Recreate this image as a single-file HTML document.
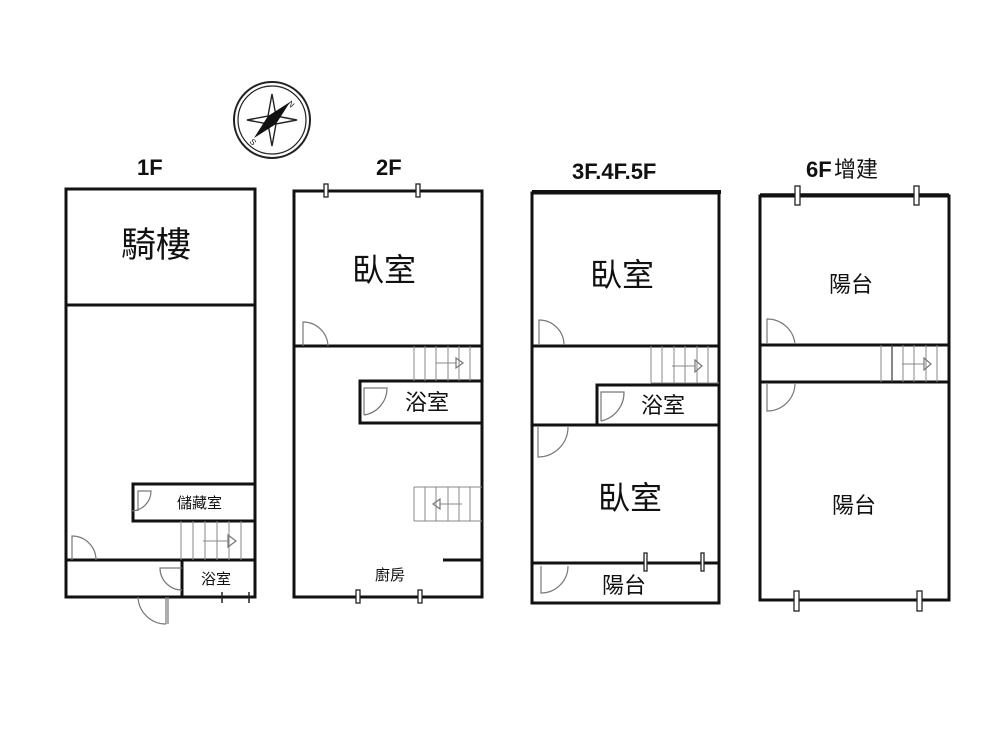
<!DOCTYPE html>
<html><head><meta charset="utf-8">
<style>
html,body{margin:0;padding:0;background:#fff;}
svg{display:block;}
.w{stroke:#111;stroke-width:3;fill:none;}
.t{stroke:#111;stroke-width:1.6;fill:none;}
.g{stroke:#888;stroke-width:1;fill:none;}
.d{stroke:#777;stroke-width:1.2;fill:none;}
text{font-family:"Liberation Sans","Noto Sans CJK TC",sans-serif;fill:#111;}
.h{font-weight:bold;font-size:22px;}
.b{font-size:32px;}
.m{font-size:22px;}
.s{font-size:15px;}
</style></head><body>
<svg width="1000" height="750" viewBox="0 0 1000 750" xmlns="http://www.w3.org/2000/svg">
<!-- compass -->
<g transform="translate(272,120)">
<circle r="38" fill="none" stroke="#222" stroke-width="2"/>
<circle r="34" fill="none" stroke="#222" stroke-width="1.2"/>
<path d="M0,-26 L4,-4 L0,0 L-4,-4Z M0,26 L4,4 L0,0 L-4,4Z M-25,0 L-4,-4 L0,0 L-4,4Z M25,0 L4,-4 L0,0 L4,4Z" fill="#fff" stroke="#222" stroke-width="1.4"/>
<path d="M18,-18 L4,4 L-18,18 L-4,-4Z" fill="#111"/>
<text x="16" y="-14" font-size="8" transform="rotate(45 18 -16)">N</text>
<text x="-22" y="24" font-size="8" transform="rotate(45 -20 22)">S</text>
</g>

<!-- titles -->
<text class="h" x="137" y="175">1F</text>
<text class="h" x="376" y="175">2F</text>
<text class="h" x="572" y="179">3F.4F.5F</text>
<text class="h" x="806" y="177">6F</text><text x="834" y="177" font-size="22">增建</text>

<!-- 1F -->
<rect class="w" x="66" y="189" width="189" height="408"/>
<line class="w" x1="66" y1="305" x2="255" y2="305"/>
<rect class="w" x="133" y="484" width="122" height="37"/>
<line class="w" x1="66" y1="560" x2="255" y2="560"/>
<line class="w" x1="182" y1="560" x2="182" y2="597"/>
<g class="g"><line x1="181" y1="521" x2="181" y2="560"/><line x1="193" y1="521" x2="193" y2="560"/><line x1="205" y1="521" x2="205" y2="560"/><line x1="217" y1="521" x2="217" y2="560"/><line x1="229" y1="521" x2="229" y2="560"/><line x1="241" y1="521" x2="241" y2="560"/><line x1="203" y1="541" x2="228" y2="541"/></g>
<path class="d" d="M228,535 L236,541 L228,547Z"/>
<path class="d" d="M138,511 V491 H151 A20,20 0 0 1 131,511"/>
<path class="d" d="M72,560 V536 A24,24 0 0 1 96,560"/>
<path class="d" d="M182,590 A22,22 0 0 1 160,568 H182"/>
<path class="d" d="M166,624 V597 M166,624 A28,28 0 0 1 138,597 M168,624 V597"/>
<g stroke="#222" stroke-width="1.5"><line x1="222" y1="592" x2="222" y2="603"/><line x1="249" y1="592" x2="249" y2="603"/></g>
<text x="121" y="257" font-size="35">騎樓</text>
<text class="s" x="177" y="508">儲藏室</text>
<text class="s" x="201" y="584">浴室</text>

<!-- 2F -->
<rect class="w" x="294" y="191" width="188" height="406"/>
<line class="w" x1="294" y1="346" x2="482" y2="346"/>
<rect class="w" x="360" y="381" width="122" height="42"/>
<line class="w" x1="443" y1="560" x2="482" y2="560"/>
<g class="g"><line x1="414" y1="346" x2="414" y2="381"/><line x1="425" y1="346" x2="425" y2="381"/><line x1="436" y1="346" x2="436" y2="381"/><line x1="448" y1="346" x2="448" y2="381"/><line x1="459" y1="346" x2="459" y2="381"/><line x1="470" y1="346" x2="470" y2="381"/><line x1="436" y1="363" x2="456" y2="363"/></g>
<path class="d" d="M456,358 L463,363 L456,368Z"/>
<g class="g"><line x1="414" y1="487" x2="482" y2="487"/><line x1="414" y1="521" x2="482" y2="521"/><line x1="414" y1="487" x2="414" y2="521"/><line x1="425" y1="487" x2="425" y2="521"/><line x1="436" y1="487" x2="436" y2="521"/><line x1="448" y1="487" x2="448" y2="521"/><line x1="459" y1="487" x2="459" y2="521"/><line x1="470" y1="487" x2="470" y2="521"/><line x1="440" y1="504" x2="462" y2="504"/></g>
<path class="d" d="M440,499 L433,504 L440,509Z"/>
<path class="d" d="M303,346 V322 A25,25 0 0 1 328,346"/>
<path class="d" d="M364,415 V388 H387 A27,27 0 0 1 364,415"/>
<g fill="#fff" stroke="#222" stroke-width="1.3"><rect x="324" y="184" width="4" height="13"/><rect x="416" y="184" width="4" height="13"/><rect x="356" y="590" width="4" height="13"/><rect x="418" y="590" width="4" height="13"/></g>
<text class="b" x="352" y="281">臥室</text>
<text class="m" x="405" y="410">浴室</text>
<text class="s" x="375" y="580">廚房</text>

<!-- 3F -->
<line x1="532" y1="192" x2="721" y2="192" stroke="#111" stroke-width="4"/>
<rect class="w" x="532" y="193" width="187" height="410"/>
<line class="w" x1="532" y1="346" x2="719" y2="346"/>
<line class="w" x1="532" y1="425" x2="719" y2="425"/>
<rect class="w" x="597" y="385" width="122" height="40"/>
<line class="w" x1="532" y1="563" x2="719" y2="563"/>
<g class="g"><line x1="651" y1="346" x2="651" y2="383"/><line x1="662" y1="346" x2="662" y2="383"/><line x1="674" y1="346" x2="674" y2="383"/><line x1="685" y1="346" x2="685" y2="383"/><line x1="697" y1="346" x2="697" y2="383"/><line x1="708" y1="346" x2="708" y2="383"/><line x1="672" y1="366" x2="695" y2="366"/><line x1="651" y1="383" x2="719" y2="383"/></g>
<path class="d" d="M695,360 L702,366 L695,372Z"/>
<path class="d" d="M539,345 V320 A25,25 0 0 1 564,345"/>
<path class="d" d="M601,421 V392 H624 A29,29 0 0 1 601,421"/>
<path class="d" d="M538,427 V457 A30,30 0 0 0 568,427"/>
<path class="d" d="M541,566 V593 A27,27 0 0 0 568,566"/>
<g fill="#fff" stroke="#222" stroke-width="1.3"><rect x="644" y="553" width="3" height="18"/><rect x="701" y="553" width="3" height="18"/></g>
<text class="b" x="590" y="286">臥室</text>
<text class="m" x="641" y="413">浴室</text>
<text class="b" x="598" y="509">臥室</text>
<text class="m" x="602" y="593">陽台</text>

<!-- 6F -->
<line x1="760" y1="195" x2="949" y2="195" stroke="#111" stroke-width="3.5"/>
<rect class="w" x="760" y="196" width="189" height="404"/>
<line class="w" x1="760" y1="345" x2="949" y2="345"/>
<line class="w" x1="760" y1="382" x2="949" y2="382"/>
<g class="g"><line x1="881" y1="345" x2="881" y2="382"/><line x1="892" y1="345" x2="892" y2="382"/><line x1="903" y1="345" x2="903" y2="382"/><line x1="914" y1="345" x2="914" y2="382"/><line x1="926" y1="345" x2="926" y2="382"/><line x1="937" y1="345" x2="937" y2="382"/><line x1="902" y1="364" x2="924" y2="364"/></g>
<line x1="892" y1="345" x2="892" y2="382" stroke="#444" stroke-width="1.3"/>
<path class="d" d="M924,358 L931,364 L924,370Z"/>
<path class="d" d="M767,344 V319 A28,28 0 0 1 795,344"/>
<path class="d" d="M767,384 V411 A28,28 0 0 0 795,384"/>
<g fill="#fff" stroke="#222" stroke-width="1.3"><rect x="795" y="186" width="5" height="19"/><rect x="914" y="186" width="5" height="19"/><rect x="794" y="591" width="5" height="20"/><rect x="917" y="591" width="5" height="20"/></g>
<text class="m" x="829" y="292">陽台</text>
<text class="m" x="832" y="513">陽台</text>
</svg>
</body></html>
